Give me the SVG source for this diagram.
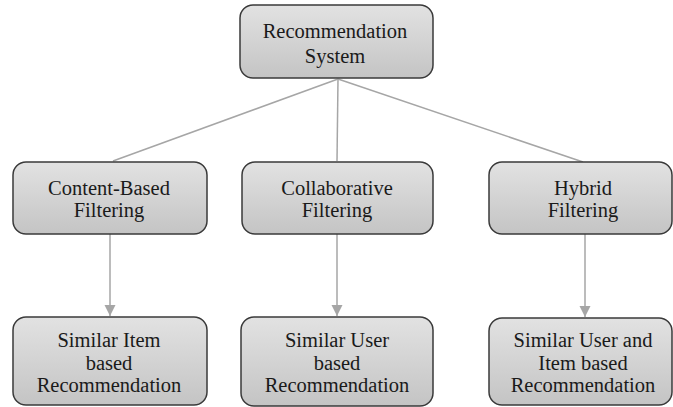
<svg xmlns="http://www.w3.org/2000/svg" width="673" height="407" viewBox="0 0 673 407">
<defs>
<linearGradient id="g" x1="0" y1="0" x2="0" y2="1">
<stop offset="0" stop-color="#e2e2e2"/>
<stop offset="1" stop-color="#c4c4c4"/>
</linearGradient>
<marker id="ah" viewBox="0 0 10 10" refX="10" refY="5" markerWidth="11" markerHeight="12" markerUnits="userSpaceOnUse" orient="auto">
<path d="M0,0 L10,5 L0,10 z" fill="#a6a6a6"/>
</marker>
</defs>
<style>
.box{fill:url(#g);stroke:#3a3a3a;stroke-width:1.5}
.t{font-family:"Liberation Serif","Times New Roman",serif;font-size:20.5px;fill:#1a1a1a;text-anchor:middle}
.c{stroke:#a6a6a6;stroke-width:1.5;fill:none}
</style>
<rect width="673" height="407" fill="#ffffff"/>
<g id="connectors">
<line class="c" x1="338" y1="79" x2="113" y2="161"/>
<line class="c" x1="338" y1="79" x2="337" y2="161"/>
<line class="c" x1="338" y1="79" x2="583" y2="162"/>
<line class="c" x1="110" y1="234" x2="110" y2="316" marker-end="url(#ah)"/>
<line class="c" x1="337" y1="234" x2="337" y2="316" marker-end="url(#ah)"/>
<line class="c" x1="585" y1="234" x2="585" y2="317" marker-end="url(#ah)"/>
</g>
<g id="root">
<rect class="box" x="240" y="5" width="193" height="73" rx="13"/>
<text class="t" x="335" y="38">Recommendation</text>
<text class="t" x="335" y="63">System</text>
</g>
<g id="content">
<rect class="box" x="13" y="162" width="194" height="72" rx="13"/>
<text class="t" x="109" y="195">Content-Based</text>
<text class="t" x="109" y="217">Filtering</text>
</g>
<g id="collab">
<rect class="box" x="242" y="162" width="191" height="72" rx="13"/>
<text class="t" x="337" y="195">Collaborative</text>
<text class="t" x="337" y="217">Filtering</text>
</g>
<g id="hybrid">
<rect class="box" x="489" y="162" width="183" height="72" rx="13"/>
<text class="t" x="583" y="195">Hybrid</text>
<text class="t" x="583" y="217">Filtering</text>
</g>
<g id="item">
<rect class="box" x="13" y="317" width="194" height="88" rx="13"/>
<text class="t" x="109" y="347">Similar Item</text>
<text class="t" x="109" y="370">based</text>
<text class="t" x="109" y="392">Recommendation</text>
</g>
<g id="user">
<rect class="box" x="241" y="317" width="192" height="89" rx="13"/>
<text class="t" x="337" y="347">Similar User</text>
<text class="t" x="337" y="370">based</text>
<text class="t" x="337" y="392">Recommendation</text>
</g>
<g id="useritem">
<rect class="box" x="489" y="318" width="183" height="87" rx="13"/>
<text class="t" x="583" y="347">Similar User and</text>
<text class="t" x="583" y="370">Item based</text>
<text class="t" x="583" y="392">Recommendation</text>
</g>
</svg>
